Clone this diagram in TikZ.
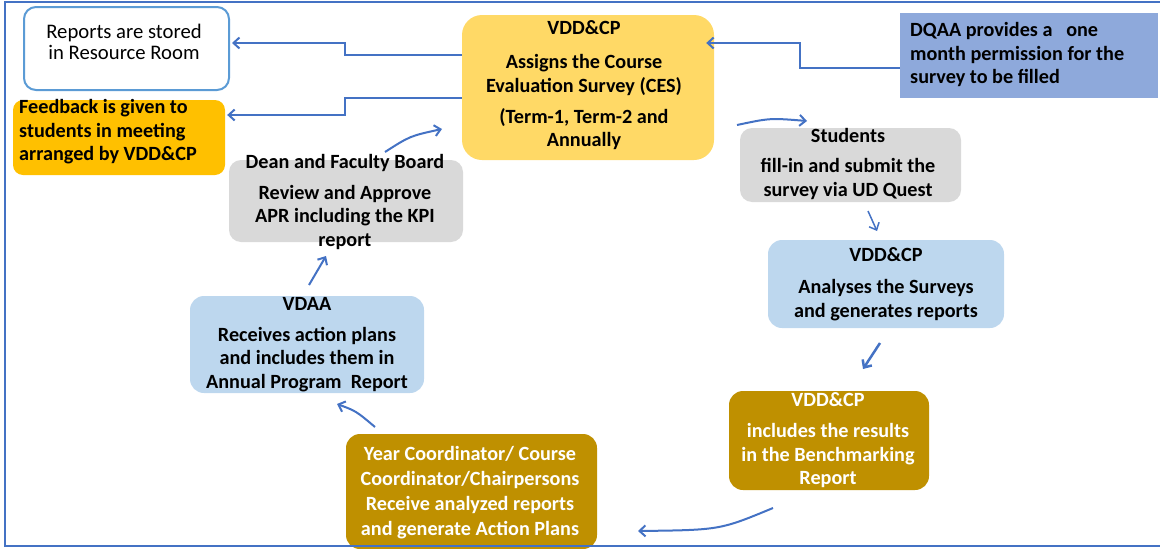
\documentclass[tikz,border=0pt]{standalone}
\usepackage{fontspec}
\setmainfont{Carlito}
\usetikzlibrary{arrows.meta}
\definecolor{linkblue}{HTML}{4472C4}
\definecolor{edgeblue}{HTML}{5B9BD5}
\definecolor{amber}{HTML}{FFC000}
\definecolor{lightgold}{HTML}{FFD966}
\definecolor{dqaablue}{HTML}{8EA9DB}
\definecolor{paleblue}{HTML}{BDD7EE}
\definecolor{greybox}{HTML}{D9D9D9}
\definecolor{darkgold}{HTML}{BF9000}

\begin{document}
\begin{tikzpicture}[x=1pt,y=-1pt,
        panel/.style={rounded corners=12pt,inner sep=0pt},
        txt/.style={font=\fontsize{20.2}{23.5}\selectfont\bfseries,align=center,inner sep=0pt},
        flow/.style={draw=linkblue,line width=2pt,-{Straight Barb[length=6pt,width=11pt]}}]
            \useasboundingbox (0,0) rectangle (1160,549);
            % boxes
            \node[panel,draw=edgeblue,line width=2pt,fill=white,minimum width=205,minimum height=83] (reports) at (126.5,48.5) {};
            \node[panel,rounded corners=10pt,fill=amber,minimum width=212,minimum height=75] (feedback) at (119,137.5) {};
            \node[panel,rounded corners=20pt,fill=lightgold,minimum width=252,minimum height=145] (vdd) at (588,87.5) {};
            \node[inner sep=0pt,fill=dqaablue,minimum width=258,minimum height=85] (dqaa) at (1029,55.5) {};
            \node[panel,fill=greybox,minimum width=221,minimum height=74] (students) at (850.5,165) {};
            \node[panel,fill=greybox,minimum width=234,minimum height=82] (dean) at (346,201) {};
            \node[panel,rounded corners=14pt,fill=paleblue,minimum width=236,minimum height=88] (analyse) at (886,284) {};
            \node[panel,rounded corners=14pt,fill=paleblue,minimum width=234,minimum height=97] (vdaa) at (307,344.5) {};
            \node[panel,rounded corners=14pt,fill=darkgold,minimum width=200,minimum height=99] (bench) at (829,440.5) {};
            \node[panel,rounded corners=14pt,fill=darkgold,minimum width=251,minimum height=115] (year) at (471.5,491.5) {};
            % texts
            \node[txt,font=\fontsize{20.7}{21}\selectfont] (reportstxt) at (124,42) {Reports are stored\\in Resource Room};
            \node[txt,align=left,anchor=west] (feedbacktxt) at (19,132) {Feedback is given to\\students in meeting\\arranged by VDD\&CP};
            \node[txt] (vddtxt) at (584,85.5) {VDD\&CP\\[10.5pt]Assigns the Course\\Evaluation Survey (CES)\\[7.5pt](Term-1, Term-2 and\\Annually};
            \node[txt,align=left,anchor=west] (dqaatxt) at (910,54.5) {DQAA provides a\ \ \ one\\month permission for the\\survey to be filled};
            \node[txt] (studentstxt) at (848,164) {Students\\[6.5pt]fill-in and submit the\\survey via UD Quest};
            \node[txt] (deantxt) at (345,201.5) {Dean and Faculty Board\\[7.5pt]Review and Approve\\APR including the KPI\\report};
            \node[txt] (analysetxt) at (886,284) {VDD\&CP\\[8.5pt]Analyses the Surveys\\and generates reports};
            \node[txt] (vdaatxt) at (307,344.5) {VDAA\\[7.5pt]Receives action plans\\and includes them in\\Annual Program\ \ Report};
            \node[txt,text=white] (benchtxt) at (828,440.5) {VDD\&CP\\[7.5pt]includes the results\\in the Benchmarking\\Report};
            \node[txt,text=white] (yeartxt) at (470,492.5) {Year Coordinator/ Course\\[1.5pt]Coordinator/Chairpersons\\[1.5pt]Receive analyzed reports\\[1.5pt]and generate Action Plans};
            % elbow connectors
            \draw[flow] ([yshift=32.5pt]vdd.west) -- ++(-117,0) |- ([xshift=2pt,yshift=5.5pt]reports.east);
            \draw[flow] ([yshift=-10.5pt]vdd.west) -- ++(-117,0) |- ([xshift=2pt,yshift=22.5pt]feedback.east);
            \draw[flow] ([yshift=-12.5pt]dqaa.west) -- ++(-100,0) |- ([xshift=-8pt,yshift=44.5pt]vdd.east);
            % short arrows round the cycle
            \coordinate (s0) at (737,125);
            \coordinate (s1) at (807,121);
            \coordinate (a0) at (868,211);
            \coordinate (a1) at (877,231);
            \coordinate (b0) at (880,343);
            \coordinate (b1) at (863,369);
            \coordinate (y0) at (773,508);
            \coordinate (y1) at (638,531);
            \coordinate (v0) at (375,427);
            \coordinate (v1) at (337,404);
            \coordinate (d0) at (309,285);
            \coordinate (d1) at (326,256);
            \coordinate (c0) at (385,152);
            \coordinate (c1) at (442,129);
            \draw[flow] (s0) .. controls (770,118) .. (s1);
            \draw[flow,line width=1.5pt] (a0) -- (a1);
            \draw[flow,line width=2.5pt] (b0) -- (b1);
            \draw[flow] (y0) .. controls (720,530) .. (y1);
            \draw[flow] (v0) .. controls (356,411) .. (v1);
            \draw[flow] (d0) -- (d1);
            \draw[flow] (c0) .. controls (410,136) .. (c1);
            % frame
            \draw[linkblue,line width=2pt] (1160,2) -- (5,2) -- (5,546) -- (1160,546);
        \end{tikzpicture}
\end{document}
